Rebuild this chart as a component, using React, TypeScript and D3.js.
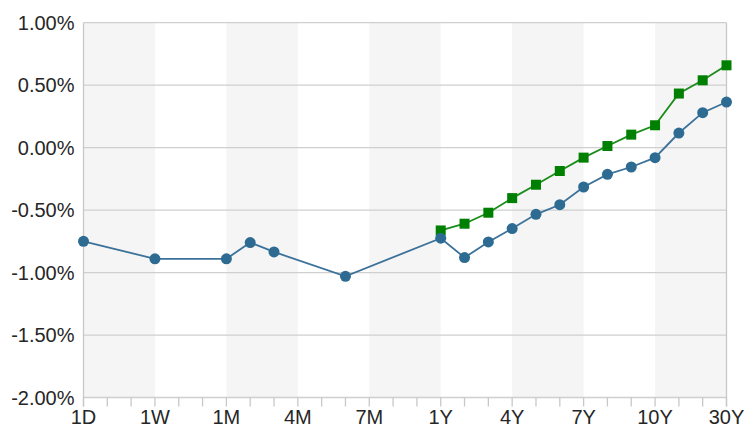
import React from "react";
import * as d3 from "d3";

const categories = ["1D","2D","3D","1W","2W","3W","1M","2M","3M","4M","5M","6M","7M","8M","9M","1Y","2Y","3Y","4Y","5Y","6Y","7Y","8Y","9Y","10Y","15Y","20Y","30Y"];
const tickLabels = ["1D","1W","1M","4M","7M","1Y","4Y","7Y","10Y","30Y"];
const yTicks = [1, 0.5, 0, -0.5, -1, -1.5, -2];

const blueCats = ["1D","1W","1M","2M","3M","6M","1Y","2Y","3Y","4Y","5Y","6Y","7Y","8Y","9Y","10Y","15Y","20Y","30Y"];
const blueValues = [-0.75,-0.89,-0.89,-0.76,-0.835,-1.03,-0.725,-0.88,-0.755,-0.648,-0.534,-0.457,-0.315,-0.214,-0.155,-0.08,0.117,0.28,0.365];

const greenCats = ["1Y","2Y","3Y","4Y","5Y","6Y","7Y","8Y","9Y","10Y","15Y","20Y","30Y"];
const greenValues = [-0.663,-0.609,-0.521,-0.404,-0.297,-0.187,-0.08,0.013,0.104,0.179,0.433,0.539,0.659];

export default function App() {
  const W = 750, H = 429;
  const left = 83.5, right = 726.5, top = 22.7, bottom = 397.5;
  const x = d3.scalePoint<string>().domain(categories).range([left, right]);
  const y = d3.scaleLinear().domain([-2, 1]).range([bottom, top]);
  const step = x.step();
  const blue = blueCats.map((c, i) => ({ c, v: blueValues[i] }));
  const green = greenCats.map((c, i) => ({ c, v: greenValues[i] }));
  const line = d3.line<{ c: string; v: number }>().x(d => x(d.c)!).y(d => y(d.v));
  const bands = tickLabels.slice(0, -1).filter((_, i) => i % 2 === 0);
  const font = "'Liberation Sans', Arial, sans-serif";
  const fmt = (t: number) => t.toFixed(2) + "%";
  return (
    <svg width={W} height={H} style={{ position: "absolute", left: 0, top: 0 }}>
      <rect x={0} y={0} width={W} height={H} fill="#fff" />
      {bands.map(b => (
        <rect key={b} x={x(b)!} y={top} width={step * 3} height={bottom - top} fill="#f5f5f5" />
      ))}
      {yTicks.map(t => (
        <line key={t} x1={left} x2={right} y1={y(t)} y2={y(t)} stroke="#cfcfcf" strokeWidth={1.3} />
      ))}
      <line x1={left} x2={left} y1={top} y2={bottom + 9} stroke="#c8c8c8" strokeWidth={1.3} />
      <line x1={right} x2={right} y1={top} y2={bottom + 9} stroke="#c8c8c8" strokeWidth={1.3} />
      {categories.map(c => (
        <line key={c} x1={x(c)!} x2={x(c)!} y1={bottom} y2={bottom + 9} stroke="#c8c8c8" strokeWidth={1.3} />
      ))}
      {yTicks.map(t => (
        <text key={t} x={74.5} y={y(t)} dy="0.36em" textAnchor="end" fontFamily={font} fontSize={20} fill="#262626">
          {fmt(t)}
        </text>
      ))}
      {tickLabels.map(l => (
        <text key={l} x={x(l)!} y={424} textAnchor="middle" fontFamily={font} fontSize={20} fill="#262626">{l}</text>
      ))}
      <path d={line(green)!} fill="none" stroke="#1a8c1a" strokeWidth={1.8} />
      {green.map(d => (
        <rect key={d.c} x={x(d.c)! - 5} y={y(d.v) - 5} width={10} height={10} fill="#008000" />
      ))}
      <path d={line(blue)!} fill="none" stroke="#3c7299" strokeWidth={1.8} />
      {blue.map(d => (
        <circle key={d.c} cx={x(d.c)!} cy={y(d.v)} r={5.5} fill="#2e6b92" />
      ))}
    </svg>
  );
}
